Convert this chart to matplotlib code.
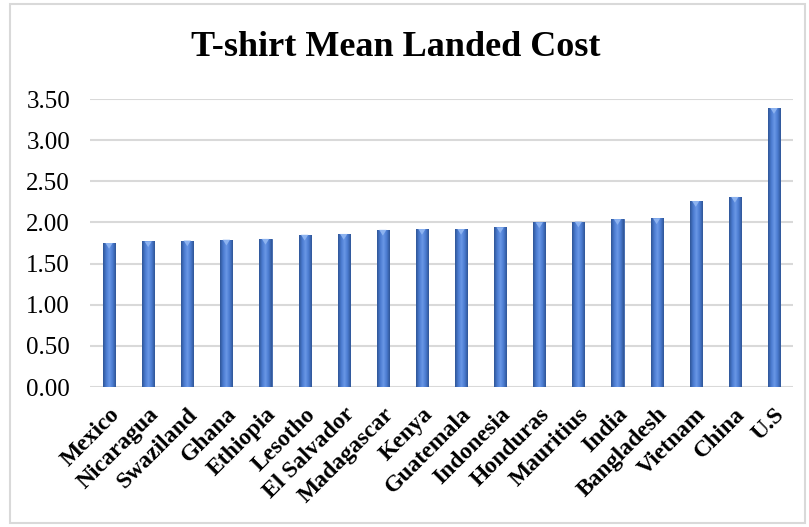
import numpy as np
import matplotlib
matplotlib.use("Agg")
import matplotlib.pyplot as plt
import matplotlib.transforms as mtransforms
from matplotlib.patches import Rectangle
from matplotlib.colors import LinearSegmentedColormap

countries = ["Mexico", "Nicaragua", "Swaziland", "Ghana", "Ethiopia", "Lesotho",
             "El Salvador", "Madagascar", "Kenya", "Guatemala", "Indonesia",
             "Honduras", "Mauritius", "India", "Bangladesh", "Vietnam", "China", "U.S"]
costs = [1.75, 1.77, 1.78, 1.79, 1.80, 1.85, 1.86, 1.91, 1.92, 1.92, 1.94,
         2.00, 2.01, 2.04, 2.05, 2.26, 2.31, 3.39]
y_ticks = [0.0, 0.5, 1.0, 1.5, 2.0, 2.5, 3.0, 3.5]

W, H = 809, 527
fig = plt.figure(figsize=(W / 100, H / 100), dpi=100)
fig.patch.set_facecolor("white")

# chart frame
fig.patches.append(Rectangle((10 / W, 4 / H), 795 / W, 519 / H, transform=fig.transFigure,
                             fill=False, edgecolor="#D9D9D9", linewidth=1.5))

ax = fig.add_axes([89.5 / W, 1 - 387 / H, 704 / W, 288 / H])
x = np.arange(len(countries))
bars = ax.bar(x, costs, width=0.31, color="#4472C4", edgecolor="#3A62A8",
              linewidth=0.6, zorder=3)

# cylinder-like shading across each bar
shade = LinearSegmentedColormap.from_list(
    "shade", ["#2F5597", "#4A7BD0", "#6A98E6", "#4A7BD0", "#2F5597"])
grad = np.linspace(0, 1, 64).reshape(1, -1)
for b in bars:
    bx, by = b.get_x(), b.get_y()
    bw, bh = b.get_width(), b.get_height()
    im = ax.imshow(grad, cmap=shade, aspect="auto", extent=(bx, bx + bw, by, by + bh),
                   zorder=4, interpolation="bilinear")
    im.set_clip_path(b)
    # light cap at the top
    ax.fill([bx + bw * 0.2, bx + bw * 0.8, bx + bw * 0.5],
            [by + bh, by + bh, by + bh - 0.07], color="#8DB3F0", zorder=5, lw=0)

ax.set_xlim(-0.5, len(countries) - 0.5)
ax.set_ylim(0, 3.5)
ax.set_yticks(y_ticks)
ax.set_yticklabels([f"{v:.2f}" for v in y_ticks], fontfamily="Liberation Serif",
                   fontsize=18)
ax.set_xticks(x)
ax.set_xticklabels(countries, rotation=45, ha="right", rotation_mode="anchor",
                   fontfamily="Liberation Serif", fontweight="bold", fontsize=17)
shift = mtransforms.ScaledTranslation(-6 / 100, -2 / 100, fig.dpi_scale_trans)
for lbl in ax.get_xticklabels():
    lbl.set_transform(lbl.get_transform() + shift)
ax.tick_params(length=0)
ax.tick_params(axis="x", pad=12)
ax.tick_params(axis="y", pad=14)
for s in ax.spines.values():
    s.set_visible(False)
ax.grid(axis="y", color="#D9D9D9", linewidth=1.5, zorder=0)
ax.set_axisbelow(True)

fig.text(396 / W, 1 - 48 / H, "T-shirt Mean Landed Cost", ha="center", va="center",
         fontfamily="Liberation Serif", fontweight="bold", fontsize=26)

fig.savefig("out.png", dpi=100)
